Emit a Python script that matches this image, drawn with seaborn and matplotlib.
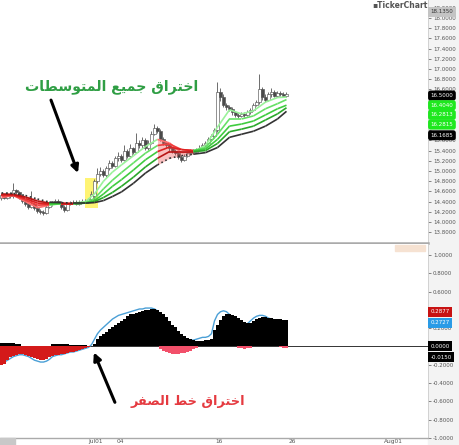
import numpy as np
import matplotlib
matplotlib.use("Agg")
import matplotlib.pyplot as plt
from matplotlib.patches import Rectangle
import seaborn as sns

sns.set_style("white")
plt.rcParams['font.family'] = ['DejaVu Sans']

# 価格データ (1本ごと)
opens = [14.48, 14.52, 14.48, 14.55, 14.50, 14.62, 14.58, 14.50, 14.42, 14.36,
         14.30, 14.35, 14.28, 14.22, 14.20, 14.18, 14.30, 14.35, 14.38, 14.42,
         14.40, 14.30, 14.24, 14.36, 14.38, 14.40, 14.36, 14.40, 14.42, 14.40,
         14.45, 14.50, 14.80, 14.95, 15.00, 14.92, 15.05, 15.15, 15.10, 15.25,
         15.30, 15.22, 15.40, 15.30, 15.45, 15.38, 15.55, 15.50, 15.60, 15.45,
         15.55, 15.72, 15.85, 15.78, 15.62, 15.55, 15.50, 15.45, 15.40, 15.35,
         15.28, 15.22, 15.30, 15.35, 15.40, 15.38, 15.42, 15.45, 15.50, 15.55,
         15.62, 15.68, 15.80, 16.55, 16.45, 16.30, 16.25, 16.22, 16.15, 16.10,
         16.08, 16.12, 16.10, 16.15, 16.20, 16.30, 16.35, 16.60, 16.45, 16.40,
         16.50, 16.55, 16.48, 16.52, 16.50, 16.48]
highs = [14.56, 14.55, 14.58, 14.58, 14.76, 14.65, 14.60, 14.52, 14.45, 14.40,
         14.60, 14.38, 14.32, 14.26, 14.24, 14.33, 14.38, 14.42, 14.45, 14.46,
         14.42, 14.33, 14.40, 14.42, 14.44, 14.43, 14.44, 14.46, 14.45, 14.48,
         14.60, 14.85, 15.05, 15.08, 15.04, 15.10, 15.22, 15.20, 15.30, 15.38,
         15.34, 15.50, 15.44, 15.52, 15.48, 15.75, 15.60, 15.66, 15.64, 15.60,
         15.78, 15.92, 15.88, 15.82, 15.66, 15.58, 15.54, 15.48, 15.44, 15.38,
         15.32, 15.34, 15.38, 15.44, 15.43, 15.46, 15.50, 15.54, 15.58, 15.66,
         15.72, 15.84, 16.75, 16.62, 16.50, 16.34, 16.30, 16.26, 16.18, 16.14,
         16.16, 16.16, 16.19, 16.24, 16.34, 16.40, 16.90, 16.64, 16.50, 16.55,
         16.62, 16.58, 16.56, 16.56, 16.54, 16.54]
lows = [14.44, 14.45, 14.46, 14.47, 14.48, 14.55, 14.46, 14.38, 14.32, 14.26,
        14.27, 14.24, 14.18, 14.16, 14.14, 14.15, 14.27, 14.32, 14.35, 14.37,
        14.26, 14.20, 14.22, 14.33, 14.35, 14.33, 14.34, 14.37, 14.37, 14.38,
        14.42, 14.44, 14.76, 14.90, 14.88, 14.88, 15.02, 15.06, 15.07, 15.20,
        15.18, 15.19, 15.26, 15.27, 15.34, 15.35, 15.46, 15.46, 15.42, 15.42,
        15.52, 15.70, 15.74, 15.58, 15.50, 15.46, 15.40, 15.36, 15.31, 15.24,
        15.18, 15.20, 15.27, 15.32, 15.34, 15.36, 15.40, 15.42, 15.47, 15.52,
        15.59, 15.65, 15.76, 16.38, 16.26, 16.20, 16.18, 16.10, 16.06, 16.04,
        16.05, 16.06, 16.07, 16.12, 16.17, 16.27, 16.32, 16.40, 16.36, 16.38,
        16.46, 16.45, 16.45, 16.47, 16.45, 16.45]
closes = [14.52, 14.48, 14.55, 14.50, 14.62, 14.58, 14.50, 14.42, 14.36, 14.30,
          14.35, 14.28, 14.22, 14.20, 14.18, 14.30, 14.35, 14.38, 14.42, 14.40,
          14.30, 14.24, 14.36, 14.38, 14.40, 14.36, 14.40, 14.42, 14.40, 14.45,
          14.55, 14.80, 14.95, 15.00, 14.92, 15.05, 15.15, 15.10, 15.25, 15.30,
          15.22, 15.40, 15.30, 15.45, 15.38, 15.55, 15.50, 15.60, 15.45, 15.55,
          15.72, 15.85, 15.78, 15.62, 15.55, 15.50, 15.45, 15.40, 15.35, 15.28,
          15.22, 15.30, 15.35, 15.40, 15.38, 15.42, 15.45, 15.50, 15.55, 15.62,
          15.68, 15.80, 16.55, 16.45, 16.30, 16.25, 16.22, 16.15, 16.10, 16.08,
          16.12, 16.10, 16.15, 16.20, 16.30, 16.35, 16.60, 16.45, 16.40, 16.50,
          16.55, 16.48, 16.52, 16.50, 16.48, 16.50]

# 移動平均リボン (数本おきに読み取り)
ribbon_idx = [0, 4, 8, 12, 16, 20, 24, 28, 31, 34, 37, 40, 44, 48, 52, 56, 60, 64,
              68, 72, 76, 80, 84, 88, 92, 95]
ma_1 = [14.48, 14.52, 14.40, 14.28, 14.33, 14.36, 14.37, 14.40, 14.55, 14.80, 14.98, 15.12, 15.30,
        15.48, 15.62, 15.55, 15.36, 15.38, 15.50, 15.86, 16.20, 16.12, 16.18, 16.35, 16.44, 16.45]
ma_2 = [14.51, 14.52, 14.43, 14.33, 14.34, 14.36, 14.36, 14.38, 14.46, 14.65, 14.82, 14.97, 15.16,
        15.35, 15.50, 15.53, 15.42, 15.40, 15.46, 15.72, 16.02, 16.02, 16.08, 16.22, 16.32, 16.40]
ma_3 = [14.53, 14.53, 14.46, 14.37, 14.35, 14.36, 14.36, 14.37, 14.42, 14.55, 14.70, 14.83, 15.02,
        15.22, 15.38, 15.47, 15.42, 15.40, 15.43, 15.62, 15.88, 15.92, 15.98, 16.10, 16.22, 16.29]
ma_4 = [14.55, 14.54, 14.49, 14.41, 14.37, 14.37, 14.36, 14.37, 14.40, 14.48, 14.58, 14.70, 14.88,
        15.08, 15.25, 15.38, 15.38, 15.38, 15.40, 15.54, 15.77, 15.82, 15.88, 16.00, 16.12, 16.24]
ma_5 = [14.57, 14.56, 14.52, 14.45, 14.39, 14.38, 14.37, 14.37, 14.38, 14.42, 14.50, 14.59, 14.76,
        14.96, 15.12, 15.25, 15.30, 15.33, 15.36, 15.46, 15.66, 15.72, 15.78, 15.88, 16.02, 16.17]
ribbon_trend = ['down', 'down', 'down', 'down', 'up', 'down', 'up', 'up', 'up', 'up', 'up', 'up',
                'up', 'up', 'down', 'down', 'down', 'up', 'up', 'up', 'up', 'up', 'up', 'up', 'up']

# MACD
macd_bars = [-0.20, -0.19, -0.15, -0.12, -0.10, -0.09, -0.08, -0.08, -0.09, -0.10,
             -0.11, -0.13, -0.14, -0.15, -0.15, -0.14, -0.12, -0.10, -0.09, -0.09,
             -0.08, -0.08, -0.07, -0.06, -0.06, -0.05, -0.04, -0.03, -0.02, -0.01,
             0.00, 0.03, 0.08, 0.11, 0.14, 0.16, 0.19, 0.21, 0.23, 0.26,
             0.28, 0.30, 0.33, 0.35, 0.36, 0.37, 0.38, 0.39, 0.40, 0.40,
             0.41, 0.41, 0.40, 0.38, 0.35, 0.32, 0.28, 0.24, 0.21, 0.17,
             0.14, 0.11, 0.09, 0.08, 0.07, 0.06, 0.06, 0.06, 0.07, 0.07,
             0.08, 0.18, 0.24, 0.29, 0.33, 0.35, 0.35, 0.34, 0.33, 0.31,
             0.29, 0.27, 0.26, 0.26, 0.28, 0.30, 0.31, 0.32, 0.32, 0.31,
             0.31, 0.30, 0.30, 0.30, 0.29, 0.29]
macd_diff = [0.04, 0.04, 0.04, 0.04, 0.04, 0.03, 0.03, -0.01, -0.01, -0.01,
             -0.01, -0.01, -0.01, -0.01, -0.01, -0.01, -0.01, 0.03, 0.03, 0.03,
             0.03, 0.03, 0.03, 0.02, 0.02, 0.02, 0.02, 0.02, 0.02, 0.01,
             0.01, 0, 0, 0, 0, 0, 0, 0, 0, 0,
             0, 0, 0, 0, 0, 0, 0, 0, 0, 0,
             0, 0, 0, -0.03, -0.05, -0.06, -0.07, -0.08, -0.08, -0.08,
             -0.07, -0.07, -0.06, -0.05, -0.03, -0.02, 0, 0, 0, 0,
             0, 0, 0, 0, 0, 0, 0, 0, 0, -0.02,
             -0.02, -0.03, -0.02, -0.02, 0, 0, 0, 0, 0, 0,
             0, 0, 0, -0.01, -0.015, -0.015]
macd_line = [-0.18, -0.17, -0.15, -0.13, -0.11, -0.10, -0.09, -0.09, -0.10, -0.11,
             -0.13, -0.15, -0.16, -0.17, -0.17, -0.16, -0.14, -0.11, -0.10, -0.09,
             -0.09, -0.08, -0.07, -0.06, -0.06, -0.05, -0.04, -0.03, -0.02, -0.01,
             0.02, 0.08, 0.14, 0.18, 0.21, 0.24, 0.27, 0.30, 0.32, 0.34,
             0.35, 0.36, 0.37, 0.38, 0.39, 0.40, 0.41, 0.41, 0.42, 0.42,
             0.42, 0.41, 0.39, 0.35, 0.31, 0.26, 0.22, 0.18, 0.14, 0.11,
             0.09, 0.08, 0.07, 0.07, 0.07, 0.08, 0.09, 0.10, 0.10, 0.11,
             0.14, 0.28, 0.35, 0.38, 0.39, 0.38, 0.35, 0.32, 0.29, 0.27,
             0.25, 0.24, 0.25, 0.28, 0.31, 0.33, 0.34, 0.34, 0.33, 0.31,
             0.30, 0.29, 0.28, 0.28, 0.27, 0.27]

# 軸ラベル
date_ticks = [2.2, 31.5, 39.5, 72.5, 96.8, 130.5]
date_labels = ['', 'Jul01', '04', '16', '26', 'Aug01']
price_ticks = [13.8 + 0.2 * k for k in range(23)]
osc_ticks = [-1.0 + 0.2 * k for k in range(11)]

# 右側の値ラベル
price_tags = ['16.5000', '16.4040', '16.2813', '16.2815', '16.1685']
osc_tags = ['0.2877', '0.2727', '0.0000', '-0.0150']

# アラビア語テキスト (表示形, 視覚順)
w_break = '\ufe8d\ufea7\ufe98\ufeae\ufe8d\ufed5'
w_all = '\ufe9f\ufee4\ufef4\ufeca'
w_avgs = '\ufe8d\ufedf\ufee4\ufe98\ufeee\ufeb3\ufec4\ufe8e\ufe95'
w_line = '\ufea7\ufec2'
w_zero = '\ufe8d\ufedf\ufebc\ufed4\ufeae'
title_ma = (w_break + ' ' + w_all + ' ' + w_avgs)[::-1]
title_zero = (w_break + ' ' + w_line + ' ' + w_zero)[::-1]

W, H = 460, 445
fig = plt.figure(figsize=(W / 100, H / 100), dpi=100)
fig.patch.set_facecolor('white')
fig.patches.append(Rectangle((428 / W, 0), 32 / W, 1, transform=fig.transFigure,
                             color='#f3f3f3', zorder=-5))
ax1 = fig.add_axes([0, 1 - 243 / H, 428 / W, 243 / H])
ax2 = fig.add_axes([0, 7 / H, 428 / W, 194 / H], sharex=ax1)

idx = np.arange(len(closes))
o = np.array(opens)
c = np.array(closes)

# --- 上段: ローソク足 + リボン ---
ax1.add_patch(Rectangle((27.8, 14.27), 4.4, 0.59, color='#fff35c', alpha=0.85, lw=0, zorder=1))
ax1.vlines(idx, lows, highs, color='#555555', lw=0.6, zorder=2)
up = c >= o
body_b = np.minimum(o, c)
body_h = np.maximum(np.abs(c - o), 0.012)
ax1.bar(idx, body_h, bottom=body_b, width=0.75,
        color=np.where(up, 'white', '#4a4a4a'), edgecolor='#555555', linewidth=0.45, zorder=2.5)

ribbons = [ma_1, ma_2, ma_3, ma_4, ma_5]
pal = {'up': ['#9af29a', '#66e066', '#3fcc3f', '#2aa82a', '#333333'],
       'down': ['#ff7070', '#f03c3c', '#dd2222', '#b81414', '#333333']}
for k, tr in enumerate(ribbon_trend):
    xs = ribbon_idx[k:k + 2]
    if tr == 'down':
        ax1.fill_between(xs, ma_1[k:k + 2], ma_5[k:k + 2], color='#ee4a4a', alpha=0.35, lw=0, zorder=2.8)
    for j, line in enumerate(ribbons):
        ax1.plot(xs, line[k:k + 2], color=pal[tr][j], lw=1.2, zorder=3,
                 ls=':' if (j == 4 and tr == 'down') else '-', solid_capstyle='butt')

ax1.set_xlim(-0.5, 142.17)
ax1.set_ylim(13.588, 18.353)

# --- 下段: MACD ---
mb = np.array(macd_bars)
md = np.array(macd_diff)
sns.lineplot(x=idx, y=macd_line, ax=ax2, color='#4a9fd6', lw=1.0, zorder=2)
ax2.bar(idx, md, width=0.75, color=np.where(md >= 0, 'black', '#f2506a'), lw=0, zorder=2.2)
ax2.bar(idx, mb, width=0.75, color=np.where(mb >= 0, 'black', '#d41a1a'), lw=0, zorder=2.5)
ax2.axhline(0, color='#333333', lw=0.7, zorder=1)
ax2.set_ylim(-0.989, 1.12)

# 軸の体裁 (ラベルボックスの下に隠れる目盛りは空欄)
hidden1 = {'15.8000', '16.0000', '16.2000', '16.4000'}
hidden2 = {'0.4000', '0.0000'}
for ax, ticks, hidden in ((ax1, price_ticks, hidden1), (ax2, osc_ticks, hidden2)):
    ax.yaxis.tick_right()
    ax.set_yticks(ticks)
    labs = [f'{t:.4f}' for t in ticks]
    ax.set_yticklabels(['' if s in hidden else s for s in labs])
    ax.tick_params(axis='y', labelsize=4.0, colors='#555555', length=2, width=0.5, pad=1.5)
    for s in ('top', 'left'):
        ax.spines[s].set_visible(False)
    ax.spines['right'].set_color('#cccccc')
    ax.spines['right'].set_linewidth(0.6)
    ax.set_ylabel('')
    ax.grid(False)

ax1.tick_params(axis='x', bottom=False, labelbottom=False)
ax1.spines['bottom'].set_color('#aaaaaa')
ax1.spines['bottom'].set_linewidth(1.8)
ax2.set_xticks(date_ticks)
ax2.set_xticklabels(date_labels)
ax2.tick_params(axis='x', labelsize=4.2, colors='#555555', direction='in', length=3, width=0.5, pad=1)
ax2.spines['bottom'].set_color('#aaaaaa')
ax2.spines['bottom'].set_linewidth(1.0)

# 右側のラベルボックス
tag_y1 = [16.48, 16.29, 16.10, 15.91, 15.70]
tag_c1 = ['black', '#1ee81e', '#1ee81e', '#1ee81e', 'black']
for t, y, fc in zip(price_tags, tag_y1, tag_c1):
    ax1.text(1.006, y, t, transform=ax1.get_yaxis_transform(), ha='left', va='center',
             fontsize=4.0, color='white', zorder=10,
             bbox=dict(boxstyle='round,pad=0.45', fc=fc, ec='none'))
ax1.text(1.006, 18.12, '18.1350', transform=ax1.get_yaxis_transform(), ha='left', va='center',
         fontsize=4.0, color='#333333', zorder=10,
         bbox=dict(boxstyle='square,pad=0.4', fc='#c4c4c4', ec='none'))
tag_y2 = [0.38, 0.26, 0.0, -0.12]
tag_c2 = ['#c81212', '#2a9be6', 'black', 'black']
for t, y, fc in zip(osc_tags, tag_y2, tag_c2):
    ax2.text(1.006, y, t, transform=ax2.get_yaxis_transform(), ha='left', va='center',
             fontsize=4.0, color='white', zorder=10,
             bbox=dict(boxstyle='square,pad=0.45', fc=fc, ec='none'))

# 注釈
ax1.text(36.8, 16.65, title_ma, fontsize=10.2, fontweight='bold', color='#2f9e44',
         ha='center', va='center', family=['DejaVu Sans'])
ax1.annotate('', xy=(25.5, 14.96), xytext=(16.5, 16.39),
             arrowprops=dict(arrowstyle='-|>', color='black', lw=2.2, mutation_scale=11,
                             shrinkA=0, shrinkB=0))
ax2.text(62.2, -0.60, title_zero, fontsize=9.3, fontweight='bold', color='#e53a40',
         ha='center', va='center', family=['DejaVu Sans'])
ax2.annotate('', xy=(30.8, -0.065), xytext=(37.8, -0.61),
             arrowprops=dict(arrowstyle='-|>', color='black', lw=2.2, mutation_scale=11,
                             shrinkA=0, shrinkB=0))

fig.text(372 / W, 1 - 6 / H, '\u25aaTickerChart', fontsize=5.5, fontweight='bold', color='#555555',
         ha='left', va='center')
fig.patches.append(Rectangle((395 / W, 1 - 251 / H), 30 / W, 6 / H, transform=fig.transFigure,
                             color='#f6e2d2', zorder=5))
fig.patches.append(Rectangle((0, 0), 15 / W, 7 / H, transform=fig.transFigure,
                             color='#c8c8c8', zorder=5))

fig.savefig('out.png', dpi=100, facecolor='white')
